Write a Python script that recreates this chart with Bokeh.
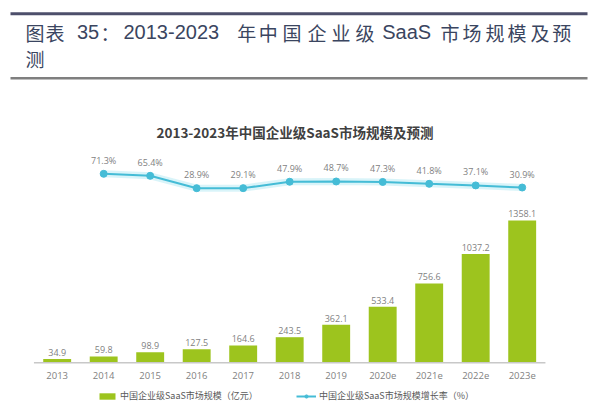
from bokeh.plotting import figure
from bokeh.models import Range1d, Label, Legend, LegendItem
from bokeh.core.properties import value
from bokeh.embed import file_html
from bokeh.resources import INLINE

# ---- data ----
years = ["2013", "2014", "2015", "2016", "2017", "2018", "2019",
         "2020e", "2021e", "2022e", "2023e"]
market_size = [34.9, 59.8, 98.9, 127.5, 164.6, 243.5, 362.1,
               533.4, 756.6, 1037.2, 1358.1]
growth_years = years[1:]
growth_rate = [71.3, 65.4, 28.9, 29.1, 47.9, 48.7, 47.3, 41.8, 37.1, 30.9]

header_title = "图表 35：2013-2023 年中国企业级 SaaS 市场规模及预测"
chart_title = "2013-2023年中国企业级SaaS市场规模及预测"
legend_bar = "中国企业级SaaS市场规模（亿元）"
legend_line = "中国企业级SaaS市场规模增长率（%）"

W, H = 600, 404
GREEN = "#9DC41E"
CYAN = "#45BCD6"
GRAY_TXT = "#7F7F7F"

idx = list(range(len(years)))
gidx = [years.index(y) for y in growth_years]

p = figure(width=W, height=H, output_backend="svg", toolbar_location=None,
           x_axis_location=None, y_axis_location=None,
           x_range=Range1d(-1.219, 11.684), y_range=Range1d(-399.2, 3459.0),
           min_border=0, min_border_left=0, min_border_right=0,
           min_border_top=0, min_border_bottom=0)
p.outline_line_color = None
p.xgrid.visible = False
p.ygrid.visible = False
p.extra_y_ranges = {"pct": Range1d(-607.9, 581.5), "fy": Range1d(H, 0)}
p.extra_x_ranges = {"fx": Range1d(0, W)}

# ---- header (report caption) ----
p.segment(x0=[10], x1=[587], y0=[13.3], y1=[13.3], x_range_name="fx", y_range_name="fy",
          line_color="#4D4F6B", line_width=3)
p.segment(x0=[10], x1=[587], y0=[77.7], y1=[77.7], x_range_name="fx", y_range_name="fy",
          line_color="#7F7F7F", line_width=2.5)

# header string split into CJK glyphs and latin runs, placed like the justified original
cjk_chars = ["图", "表", "：", "年", "中", "国", "企", "业", "级",
             "市", "场", "规", "模", "及", "预", "测"]
cjk_x = [25, 45, 100, 236.7, 258.3, 282, 307, 331, 355,
         440, 462, 485, 507, 530, 551.7, 25]
cjk_y = [31.7] * 15 + [58]
lat_txt = ["35", "2013-2023", "SaaS"]
lat_x = [76.5, 123, 381.7]
lat_y = [31.7, 31.7, 31.7]
HDR = "#3A4560"
p.text(x=cjk_x, y=cjk_y, text=cjk_chars, x_range_name="fx", y_range_name="fy",
       text_font=value("Noto Sans CJK SC"), text_font_size="19px",
       text_color=HDR, text_baseline="middle", text_align="left")
p.text(x=lat_x, y=lat_y, text=lat_txt, x_range_name="fx", y_range_name="fy",
       text_font=value("Liberation Sans"), text_font_size="20px",
       text_color=HDR, text_baseline="middle", text_align="left")

# ---- chart title ----
p.add_layout(Label(x=294.5, y=131.7, x_range_name="fx", y_range_name="fy",
                   text=chart_title, text_align="center", text_baseline="middle",
                   text_font="Noto Sans CJK SC", text_font_style="bold",
                   text_font_size="13.5px", text_color="#404040"))

# ---- bars ----
bars = p.vbar(x=idx, top=market_size, bottom=0, width=0.6,
              fill_color=GREEN, line_color=None)
p.text(x=idx, y=market_size, text=[f"{v:.1f}" for v in market_size],
       text_align="center", text_baseline="bottom", y_offset=-3,
       text_font=value("Open Sans"), text_font_size="9px", text_color=GRAY_TXT)

# axis line and category labels
p.segment(x0=[-0.5], x1=[len(years) - 0.5], y0=[0], y1=[0],
          line_color="#C8C8C8", line_width=1.5)
p.text(x=idx, y=[0] * len(idx), text=years, text_align="center",
       text_baseline="top", y_offset=9,
       text_font=value("Open Sans"), text_font_size="9.5px", text_color=GRAY_TXT)

# ---- growth line ----
p.line(x=gidx, y=growth_rate, y_range_name="pct", line_color="#C9F0F7",
       line_width=7, line_alpha=0.7)
ln = p.line(x=gidx, y=growth_rate, y_range_name="pct", line_color=CYAN, line_width=2)
pts = p.scatter(x=gidx, y=growth_rate, y_range_name="pct", size=7,
                fill_color=CYAN, line_color=CYAN)
p.text(x=gidx, y=growth_rate, y_range_name="pct",
       text=[f"{v}%" for v in growth_rate], text_align="center",
       text_baseline="bottom", y_offset=-7,
       text_font=value("Open Sans"), text_font_size="9px", text_color=GRAY_TXT)

# ---- legend ----
legend = Legend(items=[LegendItem(label=legend_bar, renderers=[bars]),
                       LegendItem(label=legend_line, renderers=[ln, pts])],
                orientation="horizontal", location=(97, 2),
                padding=0, margin=0, spacing=38, label_standoff=3,
                glyph_width=20, glyph_height=8,
                border_line_color=None, background_fill_alpha=0,
                label_text_font="Noto Sans CJK SC", label_text_font_size="9px",
                label_text_color="#595959")
p.add_layout(legend, "center")

open("out.html", "w").write(file_html(p, INLINE))
